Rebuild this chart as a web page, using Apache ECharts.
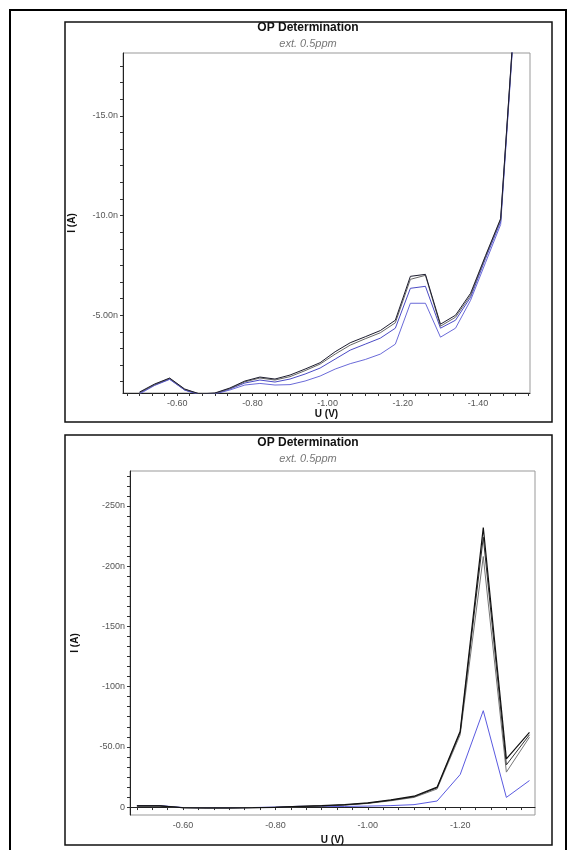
<!DOCTYPE html>
<html>
<head>
<meta charset="utf-8">
<script src="https://cdn.jsdelivr.net/npm/echarts@6/dist/echarts.min.js"></script>
<style>
  html, body { margin: 0; padding: 0; background: #fff; }
  #chart { width: 572px; height: 850px; }
</style>
</head>
<body>
<div id="chart"></div>
<script>
// top scan: U (V) and I (nA), four replicate curves
var topU = [-0.50, -0.54, -0.58, -0.62, -0.66, -0.70, -0.74, -0.78, -0.82, -0.86, -0.90, -0.94, -0.98,
  -1.02, -1.06, -1.10, -1.14, -1.18, -1.22, -1.26, -1.30, -1.34, -1.38, -1.42, -1.46, -1.50];
var topBlack = [-1.15, -1.55, -1.85, -1.30, -1.05, -1.10, -1.35, -1.70, -1.90, -1.80, -2.00, -2.30, -2.62,
  -3.17, -3.62, -3.92, -4.23, -4.75, -6.95, -7.05, -4.55, -5.00, -6.10, -8.00, -9.85, -21.0];
var topGray = [-1.12, -1.52, -1.83, -1.28, -1.05, -1.08, -1.32, -1.66, -1.85, -1.75, -1.92, -2.22, -2.55,
  -3.05, -3.50, -3.82, -4.12, -4.62, -6.80, -7.00, -4.45, -4.90, -6.00, -7.95, -9.80, -21.0];
var topBlue = [-1.10, -1.50, -1.80, -1.25, -1.02, -1.06, -1.30, -1.60, -1.75, -1.65, -1.80, -2.05, -2.35,
  -2.80, -3.25, -3.55, -3.85, -4.35, -6.35, -6.45, -4.35, -4.75, -5.90, -7.85, -9.70, -20.9];
var topLightBlue = [-1.05, -1.48, -1.78, -1.25, -1.00, -1.05, -1.25, -1.50, -1.58, -1.50, -1.52, -1.70, -1.95,
  -2.30, -2.57, -2.78, -3.05, -3.55, -5.60, -5.60, -3.90, -4.35, -5.75, -7.65, -9.55, -20.8];

// bottom scan
var botU = [-0.50, -0.55, -0.60, -0.65, -0.70, -0.75, -0.80, -0.85, -0.90, -0.95,
  -1.00, -1.05, -1.10, -1.15, -1.20, -1.25, -1.30, -1.35];
var botBlack = [-1.0, -1.0, 0.6, 0.8, 0.8, 0.6, 0.3, -0.5, -1.2, -2.0, -3.5, -6.0, -9.0, -16.5, -63, -232, -40, -62];
var botDark = [-1.0, -1.0, 0.5, 0.7, 0.7, 0.5, 0.2, -0.4, -1.0, -1.8, -3.2, -5.6, -8.5, -16.0, -62, -224, -35, -60];
var botGray = [-0.8, -0.8, 0.6, 0.8, 0.8, 0.5, 0.3, -0.3, -0.8, -1.6, -3.0, -5.2, -8.0, -15.0, -60, -208, -29, -58];
var botBlue = [-1.2, -1.2, 0.4, 0.6, 0.6, 0.4, 0.0, -0.6, -0.5, -0.5, -0.8, -1.2, -2.0, -5.0, -27, -80, -8, -22];

// tick labels
var topXLabels = [-0.6, -0.8, -1.0, -1.2, -1.4];
var topYLabels = [-15, -10, -5];
var botXLabels = [-0.6, -0.8, -1.0, -1.2];
var botYLabels = [-250, -200, -150, -100, -50, 0];

var FONT = '"Liberation Sans", Arial, sans-serif';

// minor ticks: 6 per label step, spread over the whole axis range
function minorTicks(labels, parts, lo, hi) {
  var step = Math.abs(labels[1] - labels[0]) / parts;
  var out = [];
  var start = labels[0];
  var k = Math.floor((start - lo) / step);
  for (var v = start - k * step; v <= hi + 1e-9; v += step) {
    out.push(Math.round(v * 10000) / 10000);
  }
  return out;
}

function pairs(xs, ys) {
  var d = [];
  for (var i = 0; i < xs.length; i++) d.push([xs[i], ys[i]]);
  return d;
}

function nLabel(v) {
  if (v === 0) return '0';
  return v.toPrecision(3) + 'n';
}

function xAxisOf(idx, min, max, labels, gap) {
  return {
    type: 'value', gridIndex: idx, min: min, max: max, inverse: true,
    name: 'U (V)', nameLocation: 'middle', nameGap: gap,
    nameTextStyle: { fontFamily: FONT, fontSize: 10, fontWeight: 'bold', color: '#111' },
    axisLine: { lineStyle: { color: '#222', width: 1 } },
    axisTick: { customValues: minorTicks(labels, 6, min, max), length: 3, lineStyle: { color: '#333' } },
    axisLabel: {
      customValues: labels, margin: 6, fontFamily: FONT, fontSize: 9, color: '#555',
      formatter: function(v) { return v.toFixed(2); }
    },
    splitLine: { show: false }
  };
}

function yAxisOf(idx, min, max, labels, gap) {
  return {
    type: 'value', gridIndex: idx, min: min, max: max, inverse: true,
    name: 'I (A)', nameLocation: 'middle', nameGap: gap, nameRotate: 90,
    nameTextStyle: { fontFamily: FONT, fontSize: 10, fontWeight: 'bold', color: '#111' },
    axisLine: { lineStyle: { color: '#222', width: 1 } },
    axisTick: { customValues: minorTicks(labels, 6, min, max), length: 3, lineStyle: { color: '#333' } },
    axisLabel: {
      customValues: labels, margin: 5, fontFamily: FONT, fontSize: 9, color: '#555',
      formatter: nLabel
    },
    splitLine: { show: false }
  };
}

function line(idx, xs, ys, color, w) {
  return {
    type: 'line', xAxisIndex: idx, yAxisIndex: idx, data: pairs(xs, ys),
    showSymbol: false, symbol: 'none', clip: true,
    lineStyle: { color: color, width: w || 1 }
  };
}

var chart = echarts.init(document.getElementById('chart'), null, { renderer: 'canvas' });

var titleStyle = { fontFamily: FONT, fontSize: 12, fontWeight: 'bold', color: '#111' };
var subStyle = { fontFamily: FONT, fontSize: 11, fontStyle: 'italic', color: '#777' };

var option = {
  animation: false,
  backgroundColor: '#fff',
  title: [
    { text: 'OP Determination', subtext: 'ext. 0.5ppm', left: 308, top: 22, textAlign: 'center',
      padding: 0, itemGap: 4, textStyle: titleStyle, subtextStyle: subStyle },
    { text: 'OP Determination', subtext: 'ext. 0.5ppm', left: 308, top: 437, textAlign: 'center',
      padding: 0, itemGap: 4, textStyle: titleStyle, subtextStyle: subStyle }
  ],
  grid: [
    { left: 123, top: 53, width: 407, height: 340, show: true, borderColor: '#999', borderWidth: 1 },
    { left: 130, top: 471, width: 405, height: 344, show: true, borderColor: '#999', borderWidth: 1 }
  ],
  xAxis: [
    xAxisOf(0, -1.538, -0.456, topXLabels, 15),
    xAxisOf(1, -1.362, -0.485, botXLabels, 20)
  ],
  yAxis: [
    yAxisOf(0, -18.15, -1.1, topYLabels, 46),
    yAxisOf(1, -279, 6.6, botYLabels, 50)
  ],
  series: [
    line(0, topU, topLightBlue, '#6a6ad8'),
    line(0, topU, topBlue, '#4b4bc4'),
    line(0, topU, topGray, '#666666'),
    line(0, topU, topBlack, '#1c1c2e'),
    line(1, botU, botBlue, '#5a5ae0'),
    line(1, botU, botGray, '#777777'),
    line(1, botU, botDark, '#333333'),
    line(1, botU, botBlack, '#111111', 1.2)
  ],
  graphic: [
    { type: 'rect', shape: { x: 10, y: 10, width: 556, height: 842 }, style: { fill: 'none', stroke: '#000', lineWidth: 2 }, silent: true },
    { type: 'rect', shape: { x: 65, y: 22, width: 487, height: 400 }, style: { fill: 'none', stroke: '#111', lineWidth: 1.5 }, silent: true },
    { type: 'rect', shape: { x: 65, y: 435, width: 487, height: 410 }, style: { fill: 'none', stroke: '#111', lineWidth: 1.5 }, silent: true }
  ]
};

chart.setOption(option);
</script>
</body>
</html>
